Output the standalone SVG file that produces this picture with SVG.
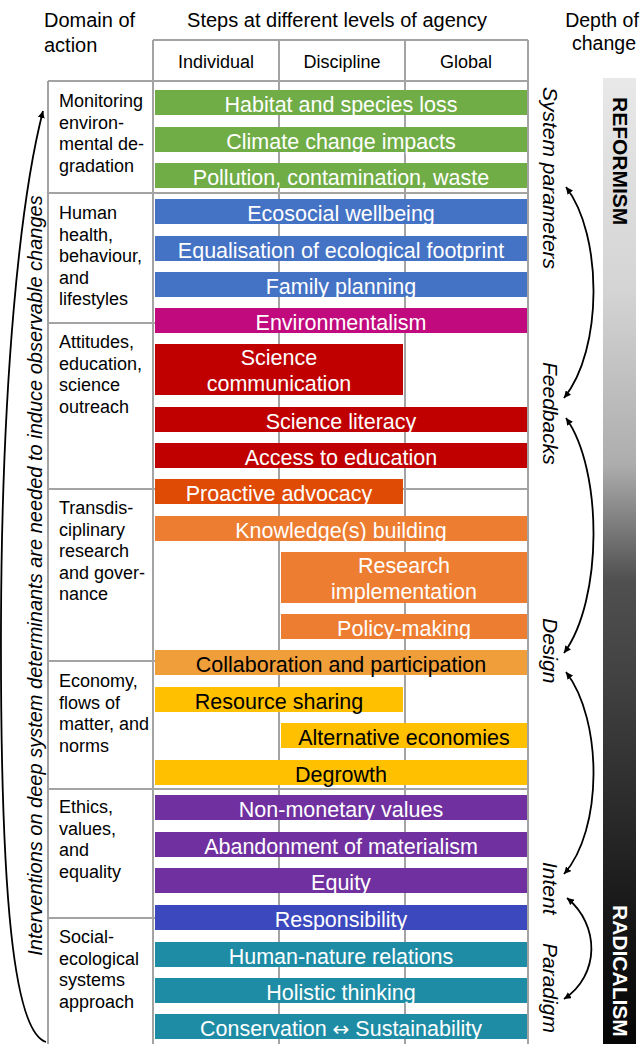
<svg xmlns="http://www.w3.org/2000/svg" width="643" height="1044" viewBox="0 0 643 1044">
<defs>
<style>
text{font-family:"Liberation Sans",Arial,sans-serif;fill:#000}
.hdr{font-size:20px}
.col{font-size:18px;text-anchor:middle}
.dom{font-size:18px}
.bar{font-size:21.5px;text-anchor:middle;fill:#fff}
.dark{fill:#000}
.lvl{font-size:21px;font-style:italic}
.big{font-size:21px;font-weight:bold}
.grid{stroke:#A3A3A3;stroke-width:2;fill:none}
.arr{stroke:#000;stroke-width:1.8;fill:none}
.g{fill:#70AD47}.b{fill:#4472C4}.m{fill:#C00A7E}.r{fill:#C00000}.o1{fill:#DF4A05}.o2{fill:#ED7D31}.o3{fill:#EF9E3A}.y{fill:#FFC000}.p{fill:#7030A0}.rb{fill:#3B48BE}.t{fill:#1E8CA5}
</style>
<linearGradient id="depth" x1="0" y1="0" x2="0" y2="1">
<stop offset="0" stop-color="#E8E8E8"/>
<stop offset="0.22" stop-color="#D4D4D4"/>
<stop offset="0.40" stop-color="#ADADAD"/>
<stop offset="0.47" stop-color="#777"/>
<stop offset="0.52" stop-color="#505050"/>
<stop offset="0.62" stop-color="#424242"/>
<stop offset="0.75" stop-color="#2C2C2C"/>
<stop offset="0.88" stop-color="#151515"/>
<stop offset="1" stop-color="#050505"/>
</linearGradient>
<marker id="ah" viewBox="0 0 10 10" refX="10" refY="5" markerWidth="7" markerHeight="7" markerUnits="userSpaceOnUse" orient="auto-start-reverse">
<path d="M0,0 L10,5 L0,10 z" fill="#000"/>
</marker>
</defs>
<rect width="643" height="1044" fill="#fff"/>

<g id="headers">
<text class="hdr" x="44" y="27">Domain of</text>
<text class="hdr" x="44" y="52">action</text>
<text class="hdr" x="337" y="27" text-anchor="middle">Steps at different levels of agency</text>
<text class="hdr" x="602" y="27" text-anchor="middle" style="font-size:19.5px">Depth of</text>
<text class="hdr" x="604" y="50" text-anchor="middle" style="font-size:19.5px">change</text>
<text class="col" x="216" y="68">Individual</text>
<text class="col" x="342" y="68">Discipline</text>
<text class="col" x="466" y="68">Global</text>
</g>

<g id="grid" class="grid">
<path d="M153 40H528M48 81H528M48 193H528M48 323H528M48 489H528M48 661H528M48 789H528M48 918H528"/>
<path d="M48 81V1044M153 40V1044M279 40V1044M405 40V1044M528 40V1044"/>
</g>

<g id="domains">
<g id="dom-monitoring"><text class="dom" x="59" y="107">Monitoring</text><text class="dom" x="59" y="128.5">environ-</text><text class="dom" x="59" y="150">mental de-</text><text class="dom" x="59" y="171.5">gradation</text></g>
<g id="dom-health"><text class="dom" x="59" y="219">Human</text><text class="dom" x="59" y="240.5">health,</text><text class="dom" x="59" y="262">behaviour,</text><text class="dom" x="59" y="283.5">and</text><text class="dom" x="59" y="305">lifestyles</text></g>
<g id="dom-attitudes"><text class="dom" x="59" y="348">Attitudes,</text><text class="dom" x="59" y="369.5">education,</text><text class="dom" x="59" y="391">science</text><text class="dom" x="59" y="412.5">outreach</text></g>
<g id="dom-transdisciplinary"><text class="dom" x="59" y="514">Transdis-</text><text class="dom" x="59" y="535.5">ciplinary</text><text class="dom" x="59" y="557">research</text><text class="dom" x="59" y="578.5">and gover-</text><text class="dom" x="59" y="600">nance</text></g>
<g id="dom-economy"><text class="dom" x="59" y="687">Economy,</text><text class="dom" x="59" y="708.5">flows of</text><text class="dom" x="59" y="730">matter, and</text><text class="dom" x="59" y="751.5">norms</text></g>
<g id="dom-ethics"><text class="dom" x="59" y="813">Ethics,</text><text class="dom" x="59" y="834.5">values,</text><text class="dom" x="59" y="856">and</text><text class="dom" x="59" y="877.5">equality</text></g>
<g id="dom-ses"><text class="dom" x="59" y="943">Social-</text><text class="dom" x="59" y="964.5">ecological</text><text class="dom" x="59" y="986">systems</text><text class="dom" x="59" y="1007.5">approach</text></g>
</g>

<g id="steps">
<g id="s-habitat"><rect class="g" x="155" y="90" width="372" height="25"/><text class="bar" x="341" y="111.5">Habitat and species loss</text></g>
<g id="s-climate"><rect class="g" x="155" y="127" width="372" height="25"/><text class="bar" x="341" y="148.5">Climate change impacts</text></g>
<g id="s-pollution"><rect class="g" x="155" y="163" width="372" height="25"/><text class="bar" x="341" y="184.5">Pollution, contamination, waste</text></g>
<g id="s-ecosocial"><rect class="b" x="155" y="199" width="372" height="25"/><text class="bar" x="341" y="220.5">Ecosocial wellbeing</text></g>
<g id="s-equalisation"><rect class="b" x="155" y="236" width="372" height="25"/><text class="bar" x="341" y="257.5">Equalisation of ecological footprint</text></g>
<g id="s-family"><rect class="b" x="155" y="272" width="372" height="25"/><text class="bar" x="341" y="293.5">Family planning</text></g>
<g id="s-environmentalism"><rect class="m" x="155" y="308" width="372" height="25"/><text class="bar" x="341" y="329.5">Environmentalism</text></g>
<g id="s-scicomm"><rect class="r" x="155" y="344" width="248" height="51"/><text class="bar" x="279" y="365">Science</text><text class="bar" x="279" y="391">communication</text></g>
<g id="s-scilit"><rect class="r" x="155" y="407" width="372" height="25"/><text class="bar" x="341" y="428.5">Science literacy</text></g>
<g id="s-access"><rect class="r" x="155" y="443" width="372" height="25"/><text class="bar" x="341" y="464.5">Access to education</text></g>
<g id="s-advocacy"><rect class="o1" x="155" y="479" width="248" height="25"/><text class="bar" x="279" y="500.5">Proactive advocacy</text></g>
<g id="s-knowledge"><rect class="o2" x="155" y="516" width="372" height="25"/><text class="bar" x="341" y="537.5">Knowledge(s) building</text></g>
<g id="s-research"><rect class="o2" x="281" y="552" width="246" height="51"/><text class="bar" x="404" y="573">Research</text><text class="bar" x="404" y="599">implementation</text></g>
<g id="s-policy"><rect class="o2" x="281" y="614" width="246" height="25"/><text class="bar" x="404" y="635.5">Policy-making</text></g>
<g id="s-collab"><rect class="o3" x="155" y="650" width="372" height="25"/><text class="bar dark" x="341" y="671.5">Collaboration and participation</text></g>
<g id="s-resource"><rect class="y" x="155" y="687" width="248" height="25"/><text class="bar dark" x="279" y="708.5">Resource sharing</text></g>
<g id="s-alternative"><rect class="y" x="281" y="723" width="246" height="25"/><text class="bar dark" x="404" y="744.5">Alternative economies</text></g>
<g id="s-degrowth"><rect class="y" x="155" y="760" width="372" height="25"/><text class="bar dark" x="341" y="781.5">Degrowth</text></g>
<g id="s-nonmonetary"><rect class="p" x="155" y="795" width="372" height="25"/><text class="bar" x="341" y="816.5">Non-monetary values</text></g>
<g id="s-abandonment"><rect class="p" x="155" y="832" width="372" height="25"/><text class="bar" x="341" y="853.5">Abandonment of materialism</text></g>
<g id="s-equity"><rect class="p" x="155" y="868" width="372" height="25"/><text class="bar" x="341" y="889.5">Equity</text></g>
<g id="s-responsibility"><rect class="rb" x="155" y="905" width="372" height="25"/><text class="bar" x="341" y="926.5">Responsibility</text></g>
<g id="s-humannature"><rect class="t" x="155" y="942" width="372" height="25"/><text class="bar" x="341" y="963.5">Human-nature relations</text></g>
<g id="s-holistic"><rect class="t" x="155" y="978" width="372" height="25"/><text class="bar" x="341" y="999.5">Holistic thinking</text></g>
<g id="s-conservation"><rect class="t" x="155" y="1014" width="372" height="25"/><text class="bar" x="341" y="1035.5">Conservation <tspan style="font-family:'DejaVu Sans',sans-serif;font-size:20px">↔</tspan> Sustainability</text></g>
</g>

<g id="depth-bar">
<rect x="603" y="78" width="33" height="966" fill="url(#depth)"/>
<text class="big" transform="translate(612.5,97) rotate(90)">REFORMISM</text>
<text class="big" transform="translate(612.5,905) rotate(90)" style="fill:#fff">RADICALISM</text>
</g>

<g id="levels">
<text class="lvl" transform="translate(543,87) rotate(90)">System parameters</text>
<text class="lvl" transform="translate(543,362) rotate(90)">Feedbacks</text>
<text class="lvl" transform="translate(543,618) rotate(90)">Design</text>
<text class="lvl" transform="translate(543,862) rotate(90)">Intent</text>
<text class="lvl" transform="translate(543,943) rotate(90)">Paradigm</text>
</g>

<g id="side-label">
<text class="lvl" style="font-size:20px" text-anchor="middle" transform="translate(42,575.5) rotate(-90)">Interventions on deep system determinants are needed to induce observable changes</text>
</g>

<g id="connectors">
<path class="arr" d="M46 1042 C14 1032, 0 900, 1 620 C2 380, 20 200, 43 111" marker-end="url(#ah)"/>
<path class="arr" d="M566 187 C603 235, 603 350, 564 398" marker-start="url(#ah)" marker-end="url(#ah)"/>
<path class="arr" d="M566 418 C603 470, 603 600, 564 653" marker-start="url(#ah)" marker-end="url(#ah)"/>
<path class="arr" d="M566 672 C603 720, 603 830, 564 874" marker-start="url(#ah)" marker-end="url(#ah)"/>
<path class="arr" d="M567 898 C600 925, 600 975, 564 999" marker-start="url(#ah)" marker-end="url(#ah)"/>
</g>
</svg>
